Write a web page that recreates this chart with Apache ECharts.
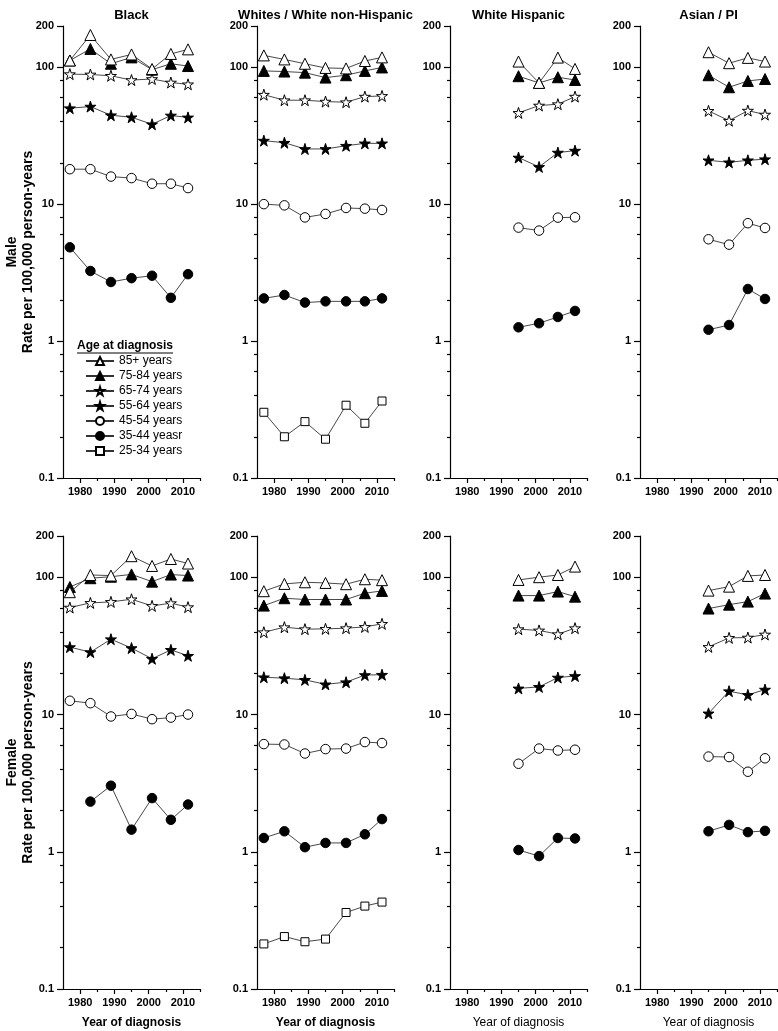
<!DOCTYPE html>
<html>
<head>
<meta charset="utf-8">
<script src="https://cdn.jsdelivr.net/npm/echarts@6/dist/echarts.min.js"></script>
<style>
html,body{margin:0;padding:0;background:#fff;}
#c{width:778px;height:1031px;}
</style>
</head>
<body>
<div id="c"></div>
<script>
// ---------- data ----------
const ageGroups = ['85+ years','75-84 years','65-74 years','55-64 years','45-54 years','35-44 yeasr','25-34 years'];
const columnTitles = ['Black','Whites / White non-Hispanic','White Hispanic','Asian / PI'];
const rowTitles = ['Male','Female'];
const yLabelValues = [0.1, 1, 10, 100, 200];
const yMinorValues = [0.2, 0.4, 0.6, 0.8, 2, 4, 6, 8, 20, 40, 60, 80];
const xLabelValues = [1980, 1990, 2000, 2010];
const xMinorValues = [1985, 1995, 2005, 2015];
const yearsFull = [1977, 1983, 1989, 1995, 2001, 2006.5, 2011.5];
const yearsLate = [1995, 2001, 2006.5, 2011.5];

// rows: 85+, 75-84, 65-74, 55-64, 45-54, 35-44, 25-34
const blackMale = [
  [112, 172, 114, 124, 97, 125, 135],
  [112, 136, 106, 118, 96, 106, 102],
  [89, 88.5, 86.6, 80.6, 82, 77.3, 75],
  [50.2, 51.6, 44.6, 43.1, 38.3, 44.4, 43],
  [18, 18, 15.9, 15.5, 14.1, 14.1, 13.1],
  [4.84, 3.25, 2.7, 2.88, 3.0, 2.07, 3.08],
  null
];
const whiteMale = [
  [122, 114, 106, 98.8, 98, 111, 118],
  [94, 93, 91.3, 84, 87.4, 94, 99.6],
  [63, 57.4, 57.4, 56.1, 55.5, 61, 61.7],
  [29.1, 28.1, 25.3, 25.3, 26.7, 27.8, 27.8],
  [10, 9.8, 8.0, 8.48, 9.38, 9.27, 9.07],
  [2.05, 2.17, 1.91, 1.95, 1.95, 1.95, 2.05],
  [0.302, 0.2, 0.258, 0.192, 0.34, 0.251, 0.365]
];
const hispanicMale = [
  [110, 76.8, 117.6, 97.2],
  [86, 76.8, 84.5, 80.7],
  [46.4, 52.5, 53.7, 61],
  [21.9, 18.7, 23.8, 24.6],
  [6.74, 6.41, 7.97, 8.02],
  [1.26, 1.35, 1.5, 1.66],
  null
];
const asianMale = [
  [128.7, 107, 117, 110],
  [87.4, 71.4, 79.4, 82],
  [48, 40.7, 48.2, 45.1],
  [20.9, 20.2, 20.9, 21.3],
  [5.54, 5.06, 7.26, 6.7],
  [1.21, 1.31, 2.40, 2.03],
  null
];
const blackFemale = [
  [77.9, 104, 103, 142.5, 121, 136, 126],
  [85, 98.5, 101, 105, 93, 104.7, 103],
  [60.2, 65.1, 66.2, 69.2, 61.9, 64.8, 60.6],
  [31, 28.5, 35.4, 30.5, 25.5, 29.6, 26.8],
  [12.6, 12.1, 9.68, 10.1, 9.25, 9.5, 10.0],
  [null, 2.32, 3.03, 1.45, 2.46, 1.71, 2.21],
  null
];
const whiteFemale = [
  [79.2, 89.5, 92, 91, 89.1, 96.8, 95.3],
  [62.2, 70.4, 68.9, 68.9, 68.9, 76.6, 79.6],
  [39.8, 43.3, 41.9, 42.1, 42.6, 43.5, 45.8],
  [18.7, 18.4, 17.9, 16.6, 17.2, 19.4, 19.5],
  [6.09, 6.05, 5.2, 5.6, 5.65, 6.3, 6.2],
  [1.26, 1.41, 1.08, 1.16, 1.16, 1.34, 1.73],
  [0.213, 0.241, 0.221, 0.231, 0.361, 0.402, 0.43]
];
const hispanicFemale = [
  [95.7, 100.2, 104, 119.7],
  [73.6, 73.6, 78.7, 72.3],
  [41.9, 41, 38.5, 42.6],
  [15.5, 15.9, 18.6, 19.1],
  [4.38, 5.65, 5.47, 5.54],
  [1.03, 0.93, 1.26, 1.25],
  null
];
const asianFemale = [
  [80, 85.5, 102.4, 104],
  [59.2, 63.2, 66.5, 76.1],
  [31.1, 36.2, 36.4, 38.3],
  [10.2, 14.8, 13.9, 15.2],
  [4.94, 4.9, 3.83, 4.8],
  [1.41, 1.57, 1.39, 1.42],
  null
];

// ---------- layout / styling ----------
const FONT = '"Liberation Sans", Arial, Helvetica, sans-serif';
const panels = [
  {data: blackMale, years: yearsFull}, {data: whiteMale, years: yearsFull},
  {data: hispanicMale, years: yearsLate}, {data: asianMale, years: yearsLate},
  {data: blackFemale, years: yearsFull}, {data: whiteFemale, years: yearsFull},
  {data: hispanicFemale, years: yearsLate}, {data: asianFemale, years: yearsLate}
];
const colLeft = [63, 257, 450, 640];
const rowTop = [26, 536];
const rowHeight = [452, 453];
const gridW = 137;

const STAR = 'path://M50,0 L61.8,36.3 L100,36.3 L69.1,58.8 L80.9,95 L50,72.6 L19.1,95 L30.9,58.8 L0,36.3 L38.2,36.3 Z';
const symbols = ['triangle','triangle',STAR,STAR,'circle','circle','rect'];
const filled = [false,true,false,true,false,true,false];
const symSize = [11,11,11,11,9.5,9.5,8];

const grids = [], xAxes = [], yAxes = [], series = [], graphics = [];

panels.forEach((p, gi) => {
  const r = Math.floor(gi / 4), c = gi % 4;
  grids.push({left: colLeft[c], top: rowTop[r], width: gridW, height: rowHeight[r], containLabel: false});
  // main x axis
  xAxes.push({
    type: 'value', gridIndex: gi, min: 1975, max: 2015, interval: 5, position: 'bottom',
    axisLine: {show: true, onZero: false, lineStyle: {color: '#000', width: 1.2}},
    axisTick: {show: true, length: 5, customValues: xLabelValues, lineStyle: {color: '#000', width: 1.2}},
    axisLabel: {show: true, customValues: xLabelValues, formatter: v => String(v), fontSize: 11, fontWeight: 'bold', color: '#000', fontFamily: FONT, margin: 8},
    splitLine: {show: false}
  });
  // minor x ticks
  xAxes.push({
    type: 'value', gridIndex: gi, min: 1975, max: 2015, interval: 5, position: 'bottom', offset: 0,
    axisLine: {show: false},
    axisTick: {show: true, length: 3, customValues: xMinorValues, lineStyle: {color: '#000', width: 1.2}},
    axisLabel: {show: false},
    splitLine: {show: false}
  });
  // main y axis
  yAxes.push({
    type: 'log', logBase: 10, gridIndex: gi, min: 0.1, max: 200, position: 'left',
    axisLine: {show: true, onZero: false, lineStyle: {color: '#000', width: 1.2}},
    axisTick: {show: true, length: 6, customValues: yLabelValues, lineStyle: {color: '#000', width: 1.2}},
    axisLabel: {show: true, customValues: yLabelValues, formatter: v => String(v), fontSize: 11, fontWeight: 'bold', color: '#000', fontFamily: FONT, margin: 9},
    splitLine: {show: false}
  });
  // minor y ticks
  yAxes.push({
    type: 'log', logBase: 10, gridIndex: gi, min: 0.1, max: 200, position: 'left', offset: 0,
    axisLine: {show: false},
    axisTick: {show: true, length: 3, customValues: yMinorValues, lineStyle: {color: '#000', width: 1.2}},
    axisLabel: {show: false},
    splitLine: {show: false}
  });
  // series (draw youngest first so open triangles sit on top)
  for (let a = ageGroups.length - 1; a >= 0; a--) {
    const vals = p.data[a];
    if (!vals) continue;
    const pts = [];
    vals.forEach((v, i) => { if (v !== null) pts.push([p.years[i], v]); });
    series.push({
      type: 'line', name: ageGroups[a],
      xAxisIndex: gi * 2, yAxisIndex: gi * 2,
      data: pts,
      symbol: symbols[a], symbolSize: symSize[a], showSymbol: true,
      lineStyle: {color: '#333', width: 0.9},
      itemStyle: {color: filled[a] ? '#000' : '#fff', borderColor: '#000', borderWidth: 1},
      emphasis: {disabled: true},
      animation: false, z: 3 + (6 - a)
    });
  }
});

// column titles
columnTitles.forEach((t, c) => {
  graphics.push({type: 'text', x: colLeft[c] + gridW / 2, y: 15,
    style: {text: t, font: 'bold 13px ' + FONT, fill: '#000', textAlign: 'center', textVerticalAlign: 'middle', align: 'center', verticalAlign: 'middle'}});
});
// row y titles
rowTitles.forEach((t, r) => {
  const cy = rowTop[r] + rowHeight[r] / 2;
  graphics.push({type: 'text', x: 12, y: cy, rotation: Math.PI / 2,
    style: {text: t, font: 'bold 14px ' + FONT, fill: '#000', textAlign: 'center', textVerticalAlign: 'middle', align: 'center', verticalAlign: 'middle'}});
  graphics.push({type: 'text', x: 28, y: cy, rotation: Math.PI / 2,
    style: {text: 'Rate per 100,000 person-years', font: 'bold 14px ' + FONT, fill: '#000', textAlign: 'center', textVerticalAlign: 'middle', align: 'center', verticalAlign: 'middle'}});
});
// x axis names (bottom row)
for (let c = 0; c < 4; c++) {
  graphics.push({type: 'text', x: colLeft[c] + gridW / 2, y: 1023,
    style: {text: 'Year of diagnosis', font: (c < 2 ? 'bold ' : '') + '12px ' + FONT, fill: '#000', textAlign: 'center', textVerticalAlign: 'middle', align: 'center', verticalAlign: 'middle'}});
}
// legend title with underline
graphics.push({type: 'text', x: 77, y: 346,
  style: {text: 'Age at diagnosis', font: 'bold 12px ' + FONT, fill: '#000', textAlign: 'left', textVerticalAlign: 'middle', align: 'left', verticalAlign: 'middle'}});
graphics.push({type: 'line', shape: {x1: 77, y1: 353, x2: 173, y2: 353}, style: {stroke: '#000', lineWidth: 1}});

const chart = echarts.init(document.getElementById('c'), null, {renderer: 'canvas'});
chart.setOption({
  backgroundColor: '#fff',
  animation: false,
  textStyle: {fontFamily: FONT},
  grid: grids,
  xAxis: xAxes,
  yAxis: yAxes,
  legend: {
    data: ageGroups, orient: 'vertical', left: 85, top: 355,
    itemWidth: 28, itemHeight: 10, itemGap: 3, selectedMode: false,
    textStyle: {fontSize: 12, color: '#000', fontFamily: FONT, padding: [0, 0, 0, 0]},
    padding: 0
  },
  graphic: graphics,
  series: series
});
</script>
</body>
</html>
